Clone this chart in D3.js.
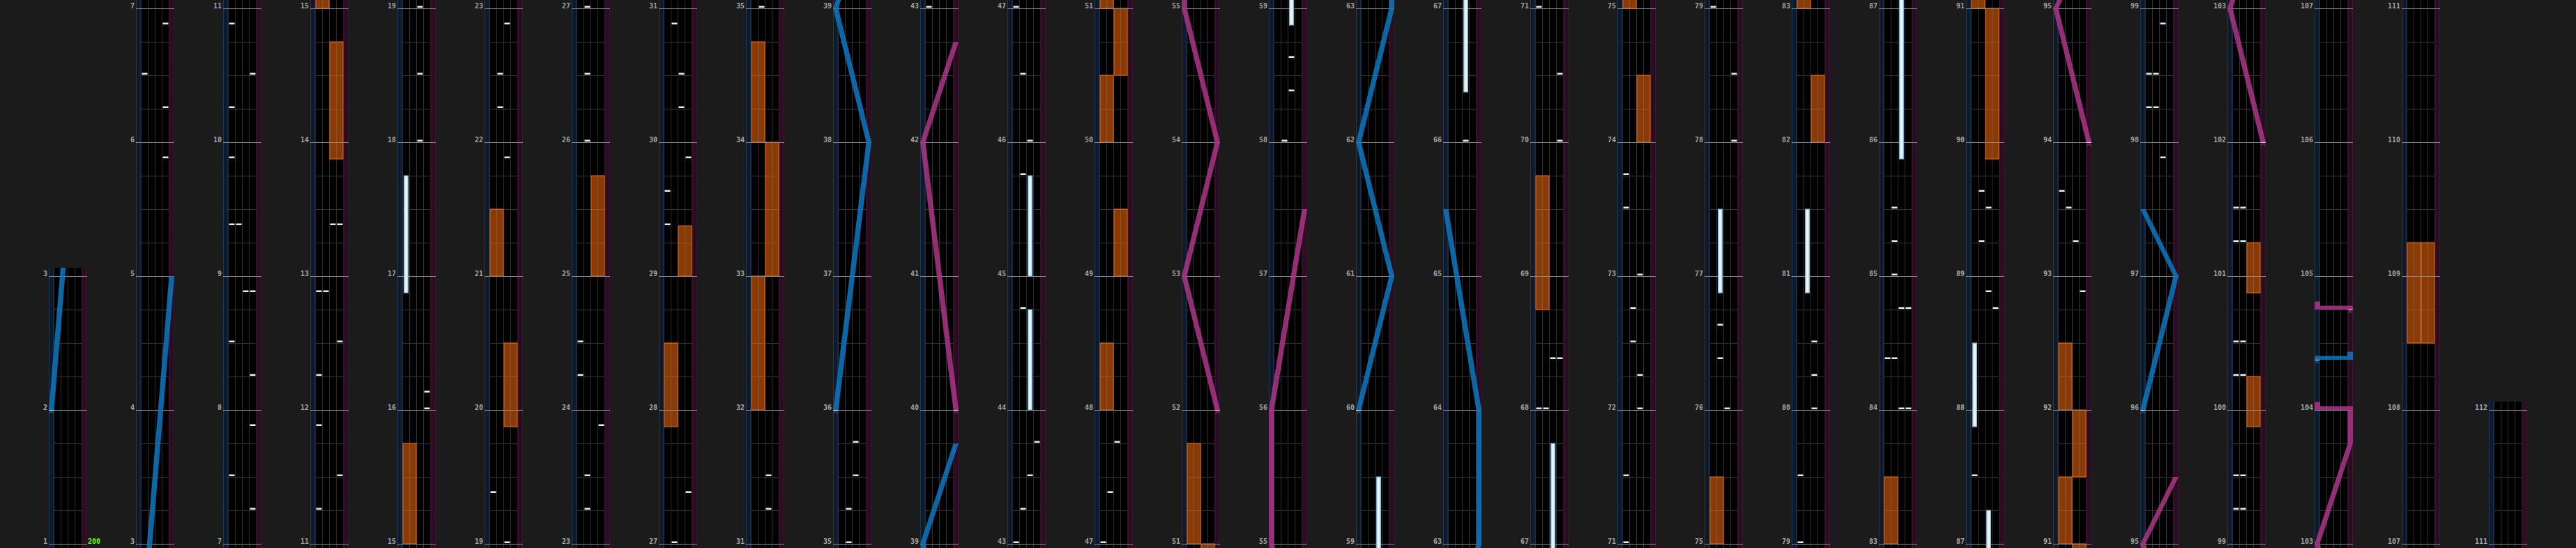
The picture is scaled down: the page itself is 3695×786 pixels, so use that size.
<!DOCTYPE html>
<html><head><meta charset="utf-8">
<script src="https://cdn.jsdelivr.net/npm/d3@7"></script>
<style>html,body{margin:0;padding:0;background:#1b1b1b;overflow:hidden}svg{display:block}</style>
</head><body>
<svg id="chart" width="3695" height="786"></svg>
<script>
// ---------------- DATA ----------------
const lanes = ["A", "B", "C", "D"];
// bottom measure of each column (first column starts at measure 1)
const columnBottoms = [1, 3, 7, 11, 15, 19, 23, 27, 31, 35, 39, 43, 47, 51, 55, 59, 63, 67, 71, 75, 79, 83, 87, 91, 95, 99, 103, 107, 111];
const columnTops = [3, 7, 11, 15, 19, 23, 27, 31, 35, 39, 43, 47, 51, 55, 59, 63, 67, 71, 75, 79, 83, 87, 91, 95, 99, 103, 107, 111, 112];
const bpmChanges = [[1, "200"]];
// BT chips: [lane, measure position]
const btChips = [
 ["D",5.875],["D",6.25],["A",6.5],["D",6.875],
 ["D",7.25],["A",7.5],["D",7.875],["D",8.25],["A",8.5],["C",8.875],["D",8.875],["A",9.375],["B",9.375],["A",9.875],["A",10.25],["D",10.5],["A",10.875],
 ["A",11.25],["D",11.5],["A",11.875],["A",12.25],["D",12.5],["A",12.875],["B",12.875],["C",13.375],["D",13.375],
 ["D",16],["D",16.125],["C",18],["C",18.5],["C",19],
 ["A",19.375],["C",21.875],["B",22.25],["B",22.5],["C",22.875],
 ["B",23.25],["B",23.5],["D",23.875],["A",24.25],["A",24.5],["B",26],["B",26.5],["B",27],
 ["D",27.375],["A",29.375],["A",29.625],["D",29.875],["C",30.25],["C",30.5],["B",30.875],
 ["C",31.25],["C",31.5],["B",35],
 ["B",35.25],["C",35.5],["C",35.75],
 ["A",43],["B",43.25],["C",43.5],["D",43.75],["B",44.75],["B",45.75],["C",46],["B",46.5],["A",47],
 ["B",47.375],["C",47.75],
 ["B",58],["C",58.375],["C",58.625],
 ["C",66],
 ["A",68],["B",68],["C",68.375],["D",68.375],["D",70],["D",70.5],["A",71],
 ["A",71.5],["C",72],["C",72.25],["B",72.5],["B",72.75],["C",73],["A",73.5],["A",73.75],
 ["C",76],["B",76.375],["B",76.625],["D",78],["D",78.5],["A",79],
 ["A",79.5],["C",80],["C",80.25],["C",80.5],
 ["C",84],["D",84],["A",84.375],["B",84.375],["C",84.75],["D",84.75],["B",85],["B",85.25],["B",85.5],
 ["A",87.5],["D",88.75],["C",88.875],["B",89.25],["C",89.5],["B",89.625],
 ["D",92.875],["C",93.25],["B",93.5],["A",93.625],
 ["C",97.875],["A",98.25],["B",98.25],["A",98.5],["B",98.5],["C",98.875],
 ["A",99.25],["B",99.25],["A",99.5],["B",99.5],["A",100.25],["B",100.25],["A",100.5],["B",100.5],["A",101.25],["B",101.25],["A",101.5],["B",101.5]
];
// BT holds: [lane, start, end]
const btHolds = [
 ["A",16.875,17.75],["C",44,44.75],["C",45,45.75],["C",58.875,59.5],["C",66.375,67.75],
 ["B",76.875,77.5],["B",80.875,81.5],["C",85.875,87.25],["A",87.875,88.5]
];
// FX holds: [side, start, end]
const fxHolds = [
 ["R",13.875,14.75],["L",15,15.75],["R",19.875,20.5],["L",21,21.5],["R",25,25.75],
 ["L",27.875,28.5],["R",29,29.375],["L",32,33],["R",33,34],["L",34,34.75],
 ["L",48,48.5],["R",49,49.5],["L",50,50.5],["R",50.5,51],["L",51,51.75],
 ["L",68.75,69.75],["R",74,74.5],["L",75,75.5],["R",82,82.5],["L",83,83.5],
 ["R",89.875,91],["L",91,91.5],["R",91.5,92],["L",92,92.5],
 ["R",99.875,100.25],["R",100.875,101.25],["L",108.5,109.25],["R",108.5,109.25]
];
// lasers: sections of [measure position, knob position 0..1]; equal positions = slam
const laserLeft = [
 [[2,0],[5,1]],
 [[36,0],[38,1],[39,0],[39.75,1]],
 [[60,0],[61,1],[62,0],[63,1],[64,1],[65.5,0]],
 [[96,0],[97,1],[97.5,0]],
 [[104.375,0],[104.375,1]]
];
const laserRight = [
 [[40,1],[42,0],[42.75,1]],
 [[52,1],[53,0],[54,1],[55,0],[56,0],[57.5,1]],
 [[94,1],[95,0],[95.5,1]],
 [[102,1],[103,0],[103.75,1],[104,1],[104,0]],
 [[104.75,1],[104.75,0]]
];

// ---------------- LAYOUT ----------------
const H = 786;
const colW = 55, stripW = 7.5, pad = 12;
const svg = d3.select("#chart");
const colScale = d3.scaleLinear().domain([0, 1]).range([70, 195]);
const laneScale = d3.scaleBand().domain(lanes).range([stripW, colW - stripW]);
const laserX = d3.scaleLinear().domain([0, 1]).range([stripW / 2, colW - stripW / 2]);
const fxLanes = {L: ["A", "B"], R: ["C", "D"]};
const laserStyle = {
  L: {fill: "#0e78c0", chev: "#3d86b8"},
  R: {fill: "#ad3689", chev: "#b0508f"}
};

svg.append("rect").attr("width", 3695).attr("height", H).attr("fill", "#1b1b1b");

columnBottoms.forEach((B, k) => {
  const T = columnTops[k];
  const y = d3.scaleLinear().domain([B, B + 4]).range([780, 12]);
  const top = y(T) - pad;
  const lo = B - 0.1, hi = T + 0.1;
  const g = svg.append("g").attr("transform", `translate(${colScale(k)},0)`);
  const cid = "clip" + k;
  g.append("clipPath").attr("id", cid).append("rect")
    .attr("x", 0).attr("y", top).attr("width", colW).attr("height", H - top);
  const body = g.append("g").attr("clip-path", `url(#${cid})`);

  // backgrounds
  body.append("rect").attr("x", stripW).attr("y", top).attr("width", colW - 2 * stripW).attr("height", H - top).attr("fill", "#000");
  body.append("rect").attr("x", 0).attr("y", top).attr("width", stripW).attr("height", H - top).attr("fill", "#0f192c");
  body.append("rect").attr("x", colW - stripW).attr("y", top).attr("width", stripW).attr("height", H - top).attr("fill", "#290d21");
  [[0.5, "#1f3853"], [stripW - 0.5, "#22405e"]].forEach(([x, c]) =>
    body.append("line").attr("x1", x).attr("x2", x).attr("y1", top).attr("y2", H).attr("stroke", c).attr("stroke-width", 1));
  [[colW - stripW + 0.5, "#4a183b"], [colW - 0.5, "#3e1431"]].forEach(([x, c]) =>
    body.append("line").attr("x1", x).attr("x2", x).attr("y1", top).attr("y2", H).attr("stroke", c).attr("stroke-width", 1));

  // lane separators
  body.selectAll("line.sep").data(lanes.slice(1)).join("line").attr("class", "sep")
    .attr("x1", d => laneScale(d)).attr("x2", d => laneScale(d))
    .attr("y1", top).attr("y2", H).attr("stroke", "#2f2f2f").attr("stroke-width", 1);

  // beat lines
  const beats = d3.range(B * 4, T * 4 + 1).map(b => b / 4).filter(b => b % 1 !== 0);
  body.selectAll("line.beat").data(beats).join("line").attr("class", "beat")
    .attr("x1", stripW).attr("x2", colW - stripW)
    .attr("y1", d => Math.round(y(d)) + 0.5).attr("y2", d => Math.round(y(d)) + 0.5)
    .attr("stroke", "#333").attr("stroke-width", 1);

  // FX holds
  body.selectAll("rect.fx").data(fxHolds.filter(d => d[2] > lo && d[1] < hi)).join("rect").attr("class", "fx")
    .attr("x", d => laneScale(fxLanes[d[0]][0]) + 0.5)
    .attr("width", laneScale.bandwidth() * 2 - 1)
    .attr("y", d => y(d[2])).attr("height", d => y(d[1]) - y(d[2]))
    .attr("fill", "#ff7010").attr("fill-opacity", 0.53)
    .attr("stroke", "#f06812").attr("stroke-width", 1);

  // measure lines
  const measures = d3.range(B, T + 1);
  body.selectAll("line.meas").data(measures).join("line").attr("class", "meas")
    .attr("x1", 0).attr("x2", colW)
    .attr("y1", d => Math.round(y(d)) + 0.5).attr("y2", d => Math.round(y(d)) + 0.5)
    .attr("stroke", "#8a8a8a").attr("stroke-width", 1);

  // BT holds
  const holds = btHolds.filter(d => d[2] > lo && d[1] < hi);
  body.selectAll("rect.hold").data(holds).join("rect").attr("class", "hold")
    .attr("x", d => laneScale(d[0]) + 2).attr("width", laneScale.bandwidth() - 4)
    .attr("y", d => y(d[2])).attr("height", d => y(d[1]) - y(d[2]))
    .attr("fill", "#bcdcee").attr("stroke", "#7fb3d2").attr("stroke-width", 1);
  body.selectAll("rect.holdc").data(holds).join("rect").attr("class", "holdc")
    .attr("x", d => laneScale(d[0]) + laneScale.bandwidth() / 2 - 1.2).attr("width", 2.4)
    .attr("y", d => y(d[2]) + 1).attr("height", d => y(d[1]) - y(d[2]) - 2)
    .attr("fill", "#f4fbff");

  // BT chips
  body.selectAll("rect.chip").data(btChips.filter(d => d[1] > lo && d[1] < hi)).join("rect").attr("class", "chip")
    .attr("x", d => laneScale(d[0]) + 1).attr("width", laneScale.bandwidth() - 2)
    .attr("y", d => y(d[1]) - 3.5).attr("height", 2.5)
    .attr("fill", "#e4ecf4");

  // lasers
  const drawLaser = (sections, side) => {
    const st = laserStyle[side];
    const w = stripW;
    sections.forEach(sec => {
      if (sec[sec.length - 1][0] < lo || sec[0][0] > hi) return;
      const lg = body.append("g").attr("opacity", 0.85);
      for (let i = 0; i < sec.length - 1; i++) {
        const [t0, x0] = sec[i], [t1, x1] = sec[i + 1];
        const c0 = laserX(x0), c1 = laserX(x1);
        if (t1 > t0) {
          lg.append("path").attr("fill", st.fill)
            .attr("d", `M${c0 - w / 2},${y(t0)}L${c0 + w / 2},${y(t0)}L${c1 + w / 2},${y(t1)}L${c1 - w / 2},${y(t1)}Z`);
        } else {
          const xa = Math.min(c0, c1) - w / 2, xb = Math.max(c0, c1) + w / 2;
          lg.append("rect").attr("fill", st.fill).attr("x", xa).attr("width", xb - xa)
            .attr("y", y(t0) - 5.5).attr("height", 5.5);
          if (i === sec.length - 2) {
            lg.append("rect").attr("fill", st.fill).attr("x", c1 - w / 2 - 0.5).attr("width", w + 1)
              .attr("y", y(t1) - 11.5).attr("height", 11.5);
          }
        }
      }
      // start marker
      const [ts, xs] = sec[0];
      const cs = laserX(xs);
      body.append("line").attr("x1", cs - 3.5).attr("x2", cs + 3.5)
        .attr("y1", y(ts) + 0.5).attr("y2", y(ts) + 0.5).attr("stroke", "#e8e8e8").attr("stroke-width", 1);
      body.append("path").attr("fill", "none").attr("stroke", st.chev).attr("stroke-width", 1)
        .attr("d", `M${cs - 3},${y(ts) + 5}L${cs},${y(ts) + 2}L${cs + 3},${y(ts) + 5}`);
    });
  };
  drawLaser(laserLeft, "L");
  drawLaser(laserRight, "R");

  // measure labels
  g.selectAll("text.ml").data(measures).join("text").attr("class", "ml")
    .attr("x", -2).attr("y", d => y(d))
    .attr("text-anchor", "end")
    .attr("font-family", "DejaVu Sans Mono, monospace").attr("font-weight", "bold")
    .attr("font-size", 10).attr("fill", "#a6a6a6")
    .text(d => d);

  // bpm labels
  g.selectAll("text.bpm").data(bpmChanges.filter(d => d[0] >= B && d[0] <= T)).join("text").attr("class", "bpm")
    .attr("x", colW + 1).attr("y", d => y(d[0]))
    .attr("font-family", "DejaVu Sans Mono, monospace").attr("font-weight", "bold")
    .attr("font-size", 10).attr("fill", "#66ff00")
    .text(d => d[1]);
});
</script>
</body></html>
